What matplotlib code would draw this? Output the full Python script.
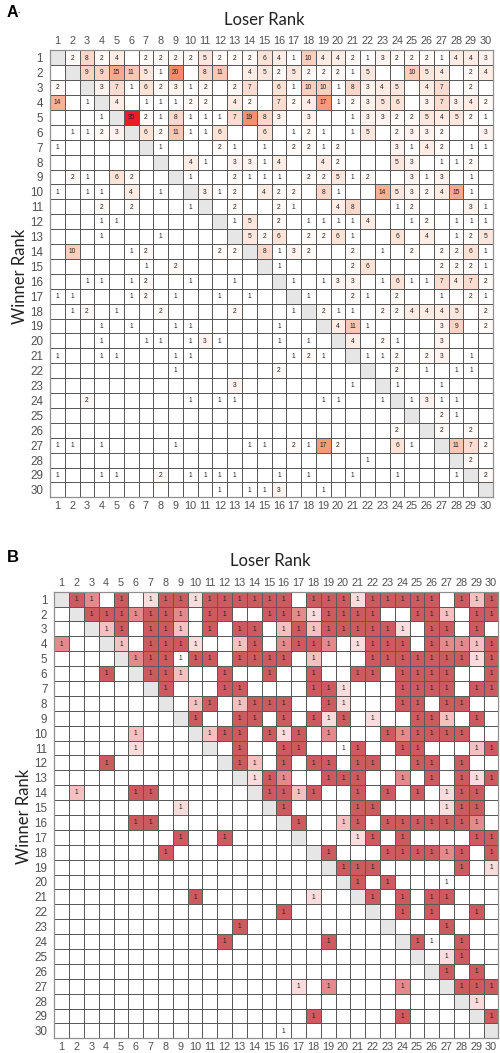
import numpy as np
import matplotlib
matplotlib.use('Agg')
from matplotlib import pyplot as plt
from matplotlib.colors import LinearSegmentedColormap, ListedColormap, BoundaryNorm

ranks = list(range(1, 31))

# panel A: match counts, winner rank in rows, loser rank in columns
counts = [
    [0,2,8,2,4,0,2,2,2,2,5,2,2,2,6,4,1,10,4,4,2,1,3,2,2,2,1,4,4,3],
    [0,0,9,9,15,11,5,1,20,0,8,11,0,4,5,2,5,2,2,2,1,5,0,0,10,5,4,0,2,4],
    [2,0,0,3,7,1,6,2,3,1,2,0,2,7,0,6,1,10,10,1,8,3,4,5,0,4,7,0,2,0],
    [14,0,1,0,4,0,1,1,1,2,2,0,4,2,0,7,2,4,17,1,2,3,5,6,0,3,7,3,4,2],
    [0,0,0,1,0,35,2,1,8,1,1,1,7,19,8,3,0,3,0,0,1,3,3,2,2,5,4,5,2,1],
    [0,1,1,2,3,0,6,2,11,1,1,6,0,0,6,0,1,2,1,0,1,5,0,2,3,3,2,0,0,3],
    [1,0,0,0,0,0,0,1,0,0,0,2,1,0,1,0,2,2,1,2,0,0,0,3,1,4,2,0,1,1],
    [0,0,0,0,0,0,0,0,0,4,1,0,3,3,1,4,0,0,4,2,0,0,0,5,3,0,1,1,2,0],
    [0,2,1,0,6,2,0,0,0,1,0,0,2,1,1,1,0,2,2,5,1,2,0,0,3,1,3,0,1,0],
    [1,0,1,1,0,4,0,1,0,0,3,1,2,0,4,2,2,0,8,1,0,0,14,5,3,2,4,15,1,0],
    [0,0,0,2,0,2,0,0,0,1,0,0,2,0,0,2,1,0,0,4,8,0,0,1,2,0,0,0,3,1],
    [0,0,0,1,1,0,0,0,0,0,0,0,1,5,0,2,0,1,1,1,1,4,0,0,1,2,0,1,1,1],
    [0,0,0,1,0,0,0,1,0,0,0,0,0,5,2,6,0,2,2,6,1,0,0,6,0,4,0,1,2,5],
    [0,10,0,0,0,1,2,0,0,0,0,2,2,0,8,1,3,2,0,0,2,0,1,0,2,0,2,2,6,1],
    [0,0,0,0,0,0,1,0,2,0,0,0,0,0,0,1,0,0,0,0,2,6,0,0,0,0,2,2,2,1],
    [0,0,1,1,0,1,2,0,0,1,0,0,1,0,0,0,1,0,1,3,3,0,1,6,1,1,7,4,7,2],
    [1,1,0,0,0,1,2,0,1,0,0,1,0,1,0,0,0,1,0,0,2,1,0,2,0,0,1,0,2,1],
    [0,1,2,0,1,0,0,2,0,0,0,0,2,0,0,0,1,0,2,1,1,0,2,2,4,4,4,5,0,2],
    [0,0,0,1,0,1,0,0,1,1,0,0,0,0,0,1,0,0,0,4,11,1,0,0,0,0,3,9,0,2],
    [0,0,0,1,0,0,1,1,0,1,3,1,0,0,0,1,0,1,0,0,4,0,2,1,0,0,3,0,0,0],
    [1,0,0,1,1,0,0,0,1,1,0,0,0,0,0,0,1,2,1,0,0,1,1,2,0,2,3,0,1,0],
    [0,0,0,0,0,0,0,0,1,0,0,0,0,0,0,2,0,0,0,0,0,0,0,2,0,1,0,1,1,0],
    [0,0,0,0,0,0,0,0,0,0,0,0,3,0,0,0,0,0,0,0,1,0,0,1,0,0,1,0,0,0],
    [0,0,2,0,0,0,0,0,0,1,0,1,1,0,0,0,0,0,1,1,0,0,1,0,1,3,1,1,0,0],
    [0,0,0,0,0,0,0,0,0,0,0,0,0,0,0,0,0,0,0,0,0,0,0,0,0,0,2,1,0,0],
    [0,0,0,0,0,0,0,0,0,0,0,0,0,0,0,0,0,0,0,0,0,0,0,2,0,0,2,0,2,0],
    [1,1,0,1,0,0,0,0,1,0,0,0,0,1,1,0,2,1,17,2,0,0,0,6,1,0,0,11,7,2],
    [0,0,0,0,0,0,0,0,0,0,0,0,0,0,0,0,0,0,0,0,0,1,0,0,0,0,0,0,2,0],
    [1,0,0,1,1,0,0,2,0,1,1,1,1,0,0,1,0,1,0,0,1,0,0,1,0,0,0,1,0,2],
    [0,0,0,0,0,0,0,0,0,0,0,1,0,1,1,3,0,0,1,0,0,0,0,0,0,0,0,0,0,0],
]

# panel B: shade level of each "1" cell, 0 = no match, 5 = strongest
levels = [
    [0,5,4,0,5,0,2,5,5,2,5,5,5,5,5,5,0,5,5,5,2,5,5,5,5,5,0,5,3,5],
    [0,0,5,5,5,4,5,5,4,0,5,5,0,0,5,5,4,2,5,5,5,5,0,0,5,5,3,0,5,5],
    [0,0,0,3,5,0,5,5,3,0,5,0,5,5,0,3,5,3,5,5,5,5,5,2,0,5,5,0,5,0],
    [4,0,0,0,3,0,5,5,5,2,0,0,3,5,0,4,5,5,4,0,2,5,5,5,0,5,4,4,3,5],
    [0,0,0,0,0,4,5,5,1,5,5,0,5,5,5,5,0,3,0,0,0,5,5,5,5,5,5,5,2,5],
    [0,0,0,5,0,0,5,5,3,0,0,5,0,0,5,0,0,5,0,0,5,5,0,5,5,5,5,0,0,5],
    [0,0,0,0,0,0,0,5,0,0,0,5,5,0,0,0,0,5,5,2,0,0,0,5,5,5,5,0,5,5],
    [0,0,0,0,0,0,0,0,0,3,5,0,3,5,5,5,0,0,5,2,0,0,0,5,5,0,5,5,0,0],
    [0,0,0,0,0,0,0,0,0,5,0,0,5,5,0,5,0,5,2,5,0,2,0,0,5,5,3,0,5,0],
    [0,0,0,0,0,3,0,0,0,0,3,5,5,0,5,2,5,0,4,0,0,0,5,4,5,5,5,5,0,0],
    [0,0,0,0,0,2,0,0,0,0,0,0,5,0,0,5,5,0,0,1,5,0,0,5,5,0,0,0,3,5],
    [0,0,0,5,0,0,0,0,0,0,0,0,5,3,0,5,0,5,5,0,5,5,0,0,5,5,0,5,0,0],
    [0,0,0,0,0,0,0,0,0,0,0,0,0,2,5,4,0,0,5,5,5,0,0,4,0,5,0,5,2,5],
    [0,3,0,0,0,5,5,0,0,0,0,0,0,0,5,5,3,5,0,0,5,0,5,0,5,0,2,5,5,0],
    [0,0,0,0,0,0,0,0,2,0,0,0,0,0,0,5,0,0,0,0,5,5,0,0,0,0,2,5,5,0],
    [0,0,0,0,0,5,5,0,0,0,0,0,0,0,0,0,5,0,0,3,5,0,5,5,5,5,5,5,4,0],
    [0,0,0,0,0,0,0,0,5,0,0,5,0,0,0,0,0,0,0,0,2,5,0,5,0,0,0,0,5,5],
    [0,0,0,0,0,0,0,5,0,0,0,0,0,0,0,0,0,0,5,0,0,0,5,5,5,5,4,5,0,5],
    [0,0,0,0,0,0,0,0,0,0,0,0,0,0,0,0,0,0,0,5,5,5,0,0,0,0,0,5,0,2],
    [0,0,0,0,0,0,0,0,0,0,0,0,0,0,0,0,0,0,0,0,5,0,5,0,0,0,1,0,0,0],
    [0,0,0,0,0,0,0,0,0,5,0,0,0,0,0,0,0,2,0,0,0,5,0,5,0,5,5,0,0,0],
    [0,0,0,0,0,0,0,0,0,0,0,0,0,0,0,5,0,0,0,0,0,0,0,5,0,5,0,0,5,0],
    [0,0,0,0,0,0,0,0,0,0,0,0,5,0,0,0,0,0,0,0,0,0,0,0,0,0,5,0,0,0],
    [0,0,0,0,0,0,0,0,0,0,0,5,0,0,0,0,0,0,5,0,0,0,0,0,5,1,0,5,0,0],
    [0,0,0,0,0,0,0,0,0,0,0,0,0,0,0,0,0,0,0,0,0,0,0,0,0,0,2,5,0,0],
    [0,0,0,0,0,0,0,0,0,0,0,0,0,0,0,0,0,0,0,0,0,0,0,0,0,0,5,0,5,0],
    [0,0,0,0,0,0,0,0,0,0,0,0,0,0,0,0,2,0,4,0,0,0,0,4,0,0,0,5,5,5],
    [0,0,0,0,0,0,0,0,0,0,0,0,0,0,0,0,0,0,0,0,0,0,0,0,0,0,0,0,2,0],
    [0,0,0,0,0,0,0,0,0,0,0,0,0,0,0,0,0,5,0,0,0,0,0,5,0,0,0,0,0,5],
    [0,0,0,0,0,0,0,0,0,0,0,0,0,0,0,1,0,0,0,0,0,0,0,0,0,0,0,0,0,0],
]

W, H = 500, 1053
tick_font = ['Liberation Sans', 'DejaVu Sans']
title_font = ['Lato', 'DejaVu Sans']

cmap_a = LinearSegmentedColormap.from_list('counts', [
    (0, '#ffffff'), (1/35, '#ffffff'), (5/35, '#fde6dc'), (10/35, '#fbcebd'),
    (17/35, '#f69a7a'), (20/35, '#f28a6c'), (1, '#ec1c24')])
cmap_a.set_bad('#e6e6e6')
cmap_b = ListedColormap(['#ffffff', '#ffffff', '#fbdcdc', '#f5c0c0', '#e48a8c', '#cd5a5e'])
cmap_b.set_bad('#e6e6e6')
norm_b = BoundaryNorm(np.arange(-0.5, 6.5), 6)


def panel(fig, box, grid, cmap, norm, labels):
    left, top, right, bottom = box
    ax = fig.add_axes([left / W, 1 - bottom / H, (right - left) / W, (bottom - top) / H])
    data = np.array(grid, dtype=float)
    np.fill_diagonal(data, np.nan)
    ax.pcolormesh(np.arange(31), np.arange(31), np.ma.masked_invalid(data), cmap=cmap, norm=norm,
                  edgecolors='#5a5a5a', linewidth=0.68)
    for r in range(30):
        for c in range(30):
            if labels[r][c] > 0:
                ax.text(c + 0.5, r + 0.52, str(labels[r][c]), fontsize=4.8, ha='center', va='center',
                        color='#222222', family=tick_font)
    ax.set_xlim(0, 30)
    ax.set_ylim(30, 0)
    ax.set_xticks(np.arange(30) + 0.5, ranks)
    ax.set_yticks(np.arange(30) + 0.5, ranks)
    ax.tick_params(axis='x', length=0, labeltop=True, labelbottom=True, labelsize=7.8, labelcolor='#505050', pad=3)
    ax.tick_params(axis='y', length=0, labelsize=8.4, labelcolor='#505050', pad=5)
    for t in ax.get_xticklabels() + ax.get_yticklabels():
        t.set_family(tick_font)
    for s in ax.spines.values():
        s.set_color('#909090')
        s.set_linewidth(0.9)
    return ax


fig = plt.figure(figsize=(W / 100, H / 100), dpi=100)

panel(fig, (50, 50.3, 493, 497.3), counts, cmap_a, plt.Normalize(0, 35), counts)
ones = [[1 if v > 0 else 0 for v in row] for row in levels]
panel(fig, (54.3, 591.7, 498.3, 1038.3), levels, cmap_b, norm_b, ones)

fig.text(264 / W, 1 - 20 / H, 'Loser Rank', fontsize=12, family=title_font, color='#222222', ha='center', va='center')
fig.text(270 / W, 1 - 560.5 / H, 'Loser Rank', fontsize=12, family=title_font, color='#222222', ha='center', va='center')
fig.text(20 / W, 1 - 276 / H, 'Winner Rank', fontsize=12, family=title_font, color='#222222',
         rotation=90, ha='center', va='center')
fig.text(24 / W, 1 - 816 / H, 'Winner Rank', fontsize=12, family=title_font, color='#222222',
         rotation=90, ha='center', va='center')
fig.text(6.5 / W, 1 - 12.5 / H, 'A', fontsize=11.5, fontweight='bold', family=tick_font, ha='left', va='center')
fig.text(18 / W, 1 - 13 / H, '-', fontsize=5, family=tick_font, ha='left', va='center')
fig.text(6.5 / W, 1 - 558 / H, 'B', fontsize=12, fontweight='bold', family=tick_font, ha='left', va='center')

fig.savefig('out.png', dpi=100)
